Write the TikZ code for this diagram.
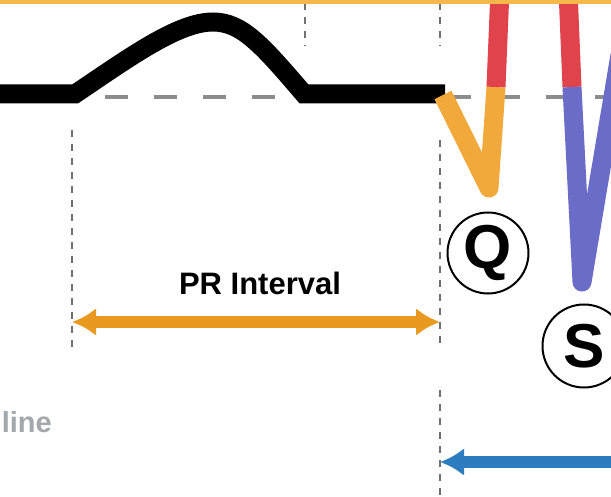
\documentclass[tikz,border=0pt]{standalone}
\usepackage{fontspec}
\setmainfont{Liberation Sans}
\usetikzlibrary{arrows.meta}
\definecolor{topbar}{HTML}{F6B84B}
\definecolor{qorange}{HTML}{F2A93B}
\definecolor{rred}{HTML}{E0434B}
\definecolor{spurple}{HTML}{6B6BC8}
\definecolor{prorange}{HTML}{E8991F}
\definecolor{arblue}{HTML}{2C7DBF}
\definecolor{vgray}{HTML}{707070}
\definecolor{bgray}{HTML}{8C8C8C}
\definecolor{txtgray}{HTML}{A3A8AD}
\begin{document}
\begin{tikzpicture}[x=1pt,y=-1pt,
  vdash/.style={draw=vgray, line width=1.8pt, dash pattern=on 7pt off 7pt},
  baseln/.style={draw=bgray, line width=3.2pt, dash pattern=on 23pt off 26pt, dash phase=42pt},
  wave/.style={line width=19pt},
  colwave/.style={line width=19pt, line join=round},
  lbl/.style={circle, draw=black, line width=2pt, minimum size=81pt, inner sep=0pt,
    font=\fontsize{62}{66}\selectfont\bfseries},
  dimarrow/.style={line width=12pt},
  dimtext/.style={font=\fontsize{31}{36}\selectfont\bfseries, text=black}
]
\useasboundingbox (0,0) rectangle (611,497);
\clip (0,0) rectangle (611,497);
\fill[white] (0,0) rectangle (611,497);

% vertical dashed guides
\draw[vdash] (305,3) -- (305,46);
\draw[vdash] (440,3) -- (440,46);
\draw[vdash] (440,140) -- (440,346);
\draw[vdash] (440,390) -- (440,497);
\draw[vdash] (72,130) -- (72,350);

% baseline
\draw[baseln] (0,97) -- (611,97);

% waveform
\coordinate (w0) at (0,94);
\coordinate (pStart) at (75,94);
\coordinate (pPeak) at (213,22);
\coordinate (pEnd) at (304,94);
\coordinate (qStart) at (445,94);
\draw[wave] (w0) -- (pStart) .. controls (130,57) and (178,22) .. (pPeak)
  .. controls (242,22) and (262,45) .. (pEnd) -- (qStart);

\coordinate (qa) at (443,95);
\coordinate (qBot) at (489,188);
\coordinate (rA) at (496,87);
\coordinate (rAtop) at (500,-10);
\coordinate (rBtop) at (568,-10);
\coordinate (rB) at (572,87);
\coordinate (sBot) at (582,282);
\coordinate (sOut) at (620,55);
\draw[colwave, draw=qorange] (qa) -- (qBot) -- (rA);
\draw[colwave, draw=rred] (rA) -- (rAtop);
\draw[colwave, draw=rred] (rBtop) -- (rB);
\draw[colwave, draw=spurple] (rB) -- (sBot) -- (sOut);

% Q and S labels
\node[lbl] (q) at (488,253) {Q};
\node[lbl, minimum size=83pt] (s) at (584,346) {S};

% PR interval
\coordinate (prL) at (72,322);
\coordinate (prR) at (440,322);
\draw[dimarrow, draw=prorange,
  {Latex[length=24pt,width=28pt]}-{Latex[length=24pt,width=28pt]}] (prL) -- (prR);
\node[dimtext] (prtext) at (260,283) {PR Interval};

% blue arrow
\coordinate (bL) at (440,462);
\coordinate (bR) at (630,462);
\draw[dimarrow, draw=arblue, {Latex[length=24pt,width=28pt]}-] (bL) -- (bR);

% partial text
\node[anchor=base east, inner sep=0pt, text=txtgray,
  font=\fontsize{29}{34}\selectfont\bfseries] (basetxt) at (52,432) {line};

% top bar
\fill[topbar] (0,0) rectangle (611,4);
\end{tikzpicture}
\end{document}
